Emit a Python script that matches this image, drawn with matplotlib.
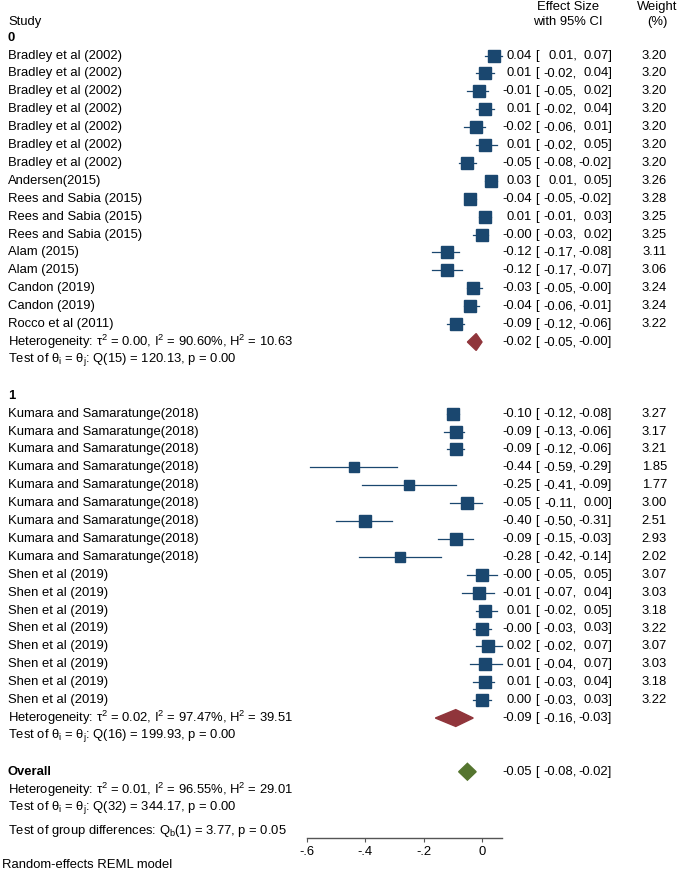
import matplotlib
matplotlib.use("Agg")
import matplotlib.pyplot as plt
from matplotlib.transforms import blended_transform_factory
from matplotlib.patches import Polygon

plt.rcParams['font.family'] = ['Liberation Sans', 'DejaVu Sans']
plt.rcParams['mathtext.fontset'] = 'custom'
plt.rcParams['mathtext.rm'] = 'Liberation Sans'
plt.rcParams['mathtext.it'] = 'Liberation Sans:italic'
plt.rcParams['mathtext.default'] = 'regular'

# group 0
studies0 = ["Bradley et al (2002)"] * 7 + ["Andersen(2015)"] + ["Rees and Sabia (2015)"] * 3 + \
           ["Alam (2015)"] * 2 + ["Candon (2019)"] * 2 + ["Rocco et al (2011)"]
es0 = [0.04, 0.01, -0.01, 0.01, -0.02, 0.01, -0.05, 0.03, -0.04, 0.01, -0.00, -0.12, -0.12, -0.03, -0.04, -0.09]
lo0 = [0.01, -0.02, -0.05, -0.02, -0.06, -0.02, -0.08, 0.01, -0.05, -0.01, -0.03, -0.17, -0.17, -0.05, -0.06, -0.12]
hi0 = [0.07, 0.04, 0.02, 0.04, 0.01, 0.05, -0.02, 0.05, -0.02, 0.03, 0.02, -0.08, -0.07, -0.00, -0.01, -0.06]
wt0 = [3.20, 3.20, 3.20, 3.20, 3.20, 3.20, 3.20, 3.26, 3.28, 3.25, 3.25, 3.11, 3.06, 3.24, 3.24, 3.22]

# group 1
studies1 = ["Kumara and Samaratunge(2018)"] * 9 + ["Shen et al (2019)"] * 8
es1 = [-0.10, -0.09, -0.09, -0.44, -0.25, -0.05, -0.40, -0.09, -0.28, -0.00, -0.01, 0.01, -0.00, 0.02, 0.01, 0.01, 0.00]
lo1 = [-0.12, -0.13, -0.12, -0.59, -0.41, -0.11, -0.50, -0.15, -0.42, -0.05, -0.07, -0.02, -0.03, -0.02, -0.04, -0.03, -0.03]
hi1 = [-0.08, -0.06, -0.06, -0.29, -0.09, 0.00, -0.31, -0.03, -0.14, 0.05, 0.04, 0.05, 0.03, 0.07, 0.07, 0.04, 0.03]
wt1 = [3.27, 3.17, 3.21, 1.85, 1.77, 3.00, 2.51, 2.93, 2.02, 3.07, 3.03, 3.18, 3.22, 3.07, 3.03, 3.18, 3.22]

# pooled estimates: group 0, group 1, overall
pooled_es = [-0.02, -0.09, -0.05]
pooled_lo = [-0.05, -0.16, -0.08]
pooled_hi = [-0.00, -0.03, -0.02]
het_text = [r"Heterogeneity: $\tau^2$ = 0.00, $I^2$ = 90.60%, $H^2$ = 10.63",
            r"Heterogeneity: $\tau^2$ = 0.02, $I^2$ = 97.47%, $H^2$ = 39.51",
            r"Heterogeneity: $\tau^2$ = 0.01, $I^2$ = 96.55%, $H^2$ = 29.01"]
test_text = [r"Test of $\theta_i$ = $\theta_j$: Q(15) = 120.13, p = 0.00",
             r"Test of $\theta_i$ = $\theta_j$: Q(16) = 199.93, p = 0.00",
             r"Test of $\theta_i$ = $\theta_j$: Q(32) = 344.17, p = 0.00"]
group_diff = r"Test of group differences: $Q_b$(1) = 3.77, p = 0.05"

ticks = [-0.6, -0.4, -0.2, 0]
tick_labels = ["-.6", "-.4", "-.2", "0"]

W, H = 685, 873
fig = plt.figure(figsize=(W / 100, H / 100), dpi=100)
# x: -0.6 at 307px, 0 at 482px ; rows: row r at 55.5 + 17.9 r px
ax = fig.add_axes([307 / W, (H - 838) / H, 195 / W, 838 / H])
ax.set_xlim(-0.6, 0.0686)
ax.set_ylim(43.7, -3.1)

box_col = "#1a476f"
grp_col = "#90353b"
all_col = "#55752f"
fs = 9.4
tr = blended_transform_factory(fig.transFigure, ax.transData)

def put(xpx, row, s, ha="left", **kw):
    ax.text(xpx / W, row, s, transform=tr, ha=ha, va="center", fontsize=fs, clip_on=False, **kw)

def ci_text(row, e, l, h, w=None):
    put(532, row, f"{e:.2f}", ha="right")
    put(535, row, "[")
    put(577, row, f"{l:.2f},", ha="right")
    put(612, row, f"{h:.2f}]", ha="right")
    if w is not None:
        put(667, row, f"{w:.2f}", ha="right")

def diamond(row, e, l, h, col):
    d = 0.47
    ax.add_patch(Polygon([(l, row), (e, row - d), (h, row), (e, row + d)],
                         closed=True, facecolor=col, edgecolor=col, clip_on=False))

# headers
put(8, -1.87, "Study")
put(568, -2.7, "Effect Size", ha="center")
put(568, -1.87, "with 95% CI", ha="center")
put(657, -2.7, "Weight", ha="center")
put(657, -1.87, "(%)", ha="center")

groups = [(studies0, es0, lo0, hi0, wt0, "0", 0), (studies1, es1, lo1, hi1, wt1, "1", 20)]
for gi, (st, e, l, h, w, label, start) in enumerate(groups):
    put(8, start - 1, label, fontweight="bold")
    for i in range(len(st)):
        r = start + i
        put(8, r, st[i])
        ax.plot([l[i], h[i]], [r, r], color=box_col, lw=0.9, clip_on=False)
        ax.plot(e[i], r, marker="s", ms=9.2 * (w[i] / 3.28) ** 0.5, color=box_col,
                mec=box_col, clip_on=False)
        ci_text(r, e[i], l[i], h[i], w[i])
    rh = start + len(st)
    put(8, rh, het_text[gi])
    put(8, rh + 1, test_text[gi])
    diamond(rh, pooled_es[gi], pooled_lo[gi], pooled_hi[gi], grp_col)
    ci_text(rh, pooled_es[gi], pooled_lo[gi], pooled_hi[gi])

put(8, 40, "Overall", fontweight="bold")
diamond(40, pooled_es[2], pooled_lo[2], pooled_hi[2], all_col)
ci_text(40, pooled_es[2], pooled_lo[2], pooled_hi[2])
put(8, 41, het_text[2])
put(8, 42, test_text[2])
put(8, 43.3, group_diff)

for s in ["top", "left", "right"]:
    ax.spines[s].set_visible(False)
ax.spines["bottom"].set_color("#555555")
ax.spines["bottom"].set_linewidth(1.0)
ax.set_yticks([])
ax.set_xticks(ticks)
ax.set_xticklabels(tick_labels, fontsize=fs)
ax.tick_params(axis="x", length=3, color="#555555", pad=3)
ax.patch.set_alpha(0)

fig.text(2 / W, 1 - 865 / H, "Random-effects REML model", ha="left", va="center", fontsize=fs)

fig.savefig("out.png", dpi=100)
